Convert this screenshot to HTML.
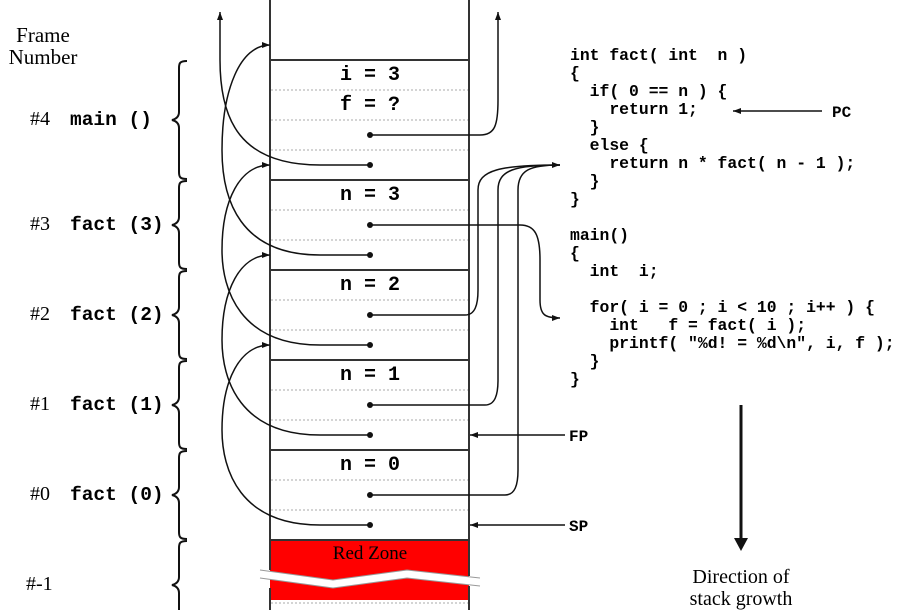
<!DOCTYPE html>
<html><head><meta charset="utf-8"><style>
body{margin:0;background:#fff}
svg{display:block}
.m{font-family:"Liberation Mono","DejaVu Sans Mono",monospace;font-weight:bold;font-size:16.4px}
.s{font-family:"Liberation Serif",serif}
</style></head><body>
<svg width="900" height="610" viewBox="0 0 900 610" xmlns="http://www.w3.org/2000/svg">
<defs>
<marker id="a" markerWidth="8" markerHeight="6" refX="8" refY="3" orient="auto" markerUnits="userSpaceOnUse"><path d="M0,0 L8,3 L0,6 z" fill="#111"/></marker>
</defs>
<rect x="270" y="540" width="199" height="60" fill="#ff0000"/>
<path d="M260,570 L333,580 L407,570 L480,578 L480,586 L407,578 L333,588 L260,578 Z" fill="#fff"/>
<path d="M260,570 L333,580 L407,570 L480,578 M260,578 L333,588 L407,578 L480,586" stroke="#999" stroke-width="1" fill="none"/>
<text x="370" y="559" class="s" font-size="19" text-anchor="middle">Red Zone</text>
<g stroke="#333" stroke-width="2" fill="none">
<line x1="270" y1="0" x2="270" y2="570"/><line x1="270" y1="588" x2="270" y2="610"/>
<line x1="469" y1="0" x2="469" y2="576"/><line x1="469" y1="586" x2="469" y2="610"/>
<line x1="270" y1="60" x2="469" y2="60"/><line x1="270" y1="180" x2="469" y2="180"/>
<line x1="270" y1="270" x2="469" y2="270"/><line x1="270" y1="360" x2="469" y2="360"/>
<line x1="270" y1="450" x2="469" y2="450"/><line x1="270" y1="540" x2="469" y2="540"/>
</g>
<g stroke="#aaa" stroke-width="1" stroke-dasharray="2,2">
<line x1="271" y1="90" x2="468" y2="90"/><line x1="271" y1="120" x2="468" y2="120"/><line x1="271" y1="150" x2="468" y2="150"/>
<line x1="271" y1="210" x2="468" y2="210"/><line x1="271" y1="240" x2="468" y2="240"/>
<line x1="271" y1="300" x2="468" y2="300"/><line x1="271" y1="330" x2="468" y2="330"/>
<line x1="271" y1="390" x2="468" y2="390"/><line x1="271" y1="420" x2="468" y2="420"/>
<line x1="271" y1="480" x2="468" y2="480"/><line x1="271" y1="510" x2="468" y2="510"/>
<line x1="271" y1="603" x2="468" y2="603"/>
</g>
<g class="m" text-anchor="middle" style="font-size:20px">
<text x="370" y="80">i = 3</text><text x="370" y="110">f = ?</text>
<text x="370" y="200">n = 3</text><text x="370" y="290">n = 2</text>
<text x="370" y="380">n = 1</text><text x="370" y="470">n = 0</text>
</g>
<g fill="#111">
<circle cx="370" cy="135" r="3"/><circle cx="370" cy="165" r="3"/>
<circle cx="370" cy="225" r="3"/><circle cx="370" cy="255" r="3"/>
<circle cx="370" cy="315" r="3"/><circle cx="370" cy="345" r="3"/>
<circle cx="370" cy="405" r="3"/><circle cx="370" cy="435" r="3"/>
<circle cx="370" cy="495" r="3"/><circle cx="370" cy="525" r="3"/>
</g>
<g stroke="#111" stroke-width="1.5" fill="none">
<path d="M370,165 L320,165 C240,165 220,120 220,60 L220,12" marker-end="url(#a)"/>
<path d="M370,255 L320,255 C240,255 222,200 222,150 C222,90 240,45 270,45" marker-end="url(#a)"/>
<path d="M370,345 L320,345 C240,345 222,290 222,250 C222,200 240,165 270,165" marker-end="url(#a)"/>
<path d="M370,435 L320,435 C240,435 222,380 222,340 C222,290 240,255 270,255" marker-end="url(#a)"/>
<path d="M370,525 L320,525 C240,525 222,470 222,430 C222,380 240,345 270,345" marker-end="url(#a)"/>
<path d="M370,135 L480,135 C495,135 498,125 498,100 L498,12" marker-end="url(#a)"/>
<path d="M370,225 L520,225 C535,225 540,235 540,260 L540,300 C540,315 545,318 560,318" marker-end="url(#a)"/>
<path d="M370,315 L465,315 C475,315 478,305 478,290 L478,190 C478,170 500,165 560,165" marker-end="url(#a)"/>
<path d="M370,405 L485,405 C495,405 498,395 498,380 L498,190 C498,170 515,165 560,165"/>
<path d="M370,495 L505,495 C515,495 518,485 518,470 L518,190 C518,170 530,165 560,165"/>
<line x1="565" y1="435" x2="470" y2="435" marker-end="url(#a)"/>
<line x1="565" y1="525" x2="470" y2="525" marker-end="url(#a)"/>
<line x1="822" y1="111" x2="733" y2="111" marker-end="url(#a)"/>
</g>
<g class="m" style="font-size:16px">
<text x="569" y="441">FP</text><text x="569" y="531">SP</text><text x="832" y="117">PC</text>
</g>
<line x1="741" y1="405" x2="741" y2="540" stroke="#111" stroke-width="3"/>
<path d="M734,538 L748,538 L741,551 Z" fill="#111"/>
<text x="741" y="583" class="s" font-size="20" text-anchor="middle">Direction of</text>
<text x="741" y="605" class="s" font-size="20" text-anchor="middle">stack growth</text>
<g class="m">
<text x="570" y="60">int fact( int &#160;n )</text>
<text x="570" y="78">{</text>
<text x="570" y="96">&#160;&#160;if( 0 == n ) {</text>
<text x="570" y="114">&#160;&#160;&#160;&#160;return 1;</text>
<text x="570" y="132">&#160;&#160;}</text>
<text x="570" y="150">&#160;&#160;else {</text>
<text x="570" y="168">&#160;&#160;&#160;&#160;return n * fact( n - 1 );</text>
<text x="570" y="186">&#160;&#160;}</text>
<text x="570" y="204">}</text>
<text x="570" y="240">main()</text>
<text x="570" y="258">{</text>
<text x="570" y="276">&#160;&#160;int &#160;i;</text>
<text x="570" y="312">&#160;&#160;for( i = 0 ; i &lt; 10 ; i++ ) {</text>
<text x="570" y="330">&#160;&#160;&#160;&#160;int &#160;&#160;f = fact( i );</text>
<text x="570" y="348">&#160;&#160;&#160;&#160;printf( "%d! = %d\n", i, f );</text>
<text x="570" y="366">&#160;&#160;}</text>
<text x="570" y="384">}</text>
</g>
<text x="43" y="42" class="s" font-size="21" text-anchor="middle">Frame</text>
<text x="43" y="64" class="s" font-size="21" text-anchor="middle">Number</text>
<g class="s" font-size="20">
<text x="30" y="125">#4</text><text x="30" y="230">#3</text><text x="30" y="320">#2</text>
<text x="30" y="410">#1</text><text x="30" y="500">#0</text><text x="26" y="590">#-1</text>
</g>
<g class="m" style="font-size:19.5px">
<text x="70" y="125">main ()</text><text x="70" y="230">fact (3)</text><text x="70" y="320">fact (2)</text>
<text x="70" y="410">fact (1)</text><text x="70" y="500">fact (0)</text>
</g>
<g stroke="#111" stroke-width="2" fill="none">
<path d="M187,61 C180,61 179,63 179,68 L179,112 C179,117 176,119 172,120 C176,121 179,123 179,128 L179,172 C179,177 180,179 187,179"/>
<path d="M187,181 C180,181 179,183 179,188 L179,217 C179,222 176,224 172,225 C176,226 179,228 179,233 L179,262 C179,267 180,269 187,269"/>
<path d="M187,271 C180,271 179,273 179,278 L179,307 C179,312 176,314 172,315 C176,316 179,318 179,323 L179,352 C179,357 180,359 187,359"/>
<path d="M187,361 C180,361 179,363 179,368 L179,397 C179,402 176,404 172,405 C176,406 179,408 179,413 L179,442 C179,447 180,449 187,449"/>
<path d="M187,451 C180,451 179,453 179,458 L179,487 C179,492 176,494 172,495 C176,496 179,498 179,503 L179,532 C179,537 180,539 187,539"/>
<path d="M187,541 C180,541 179,543 179,548 L179,577 C179,582 176,584 172,585 C176,586 179,588 179,593 L179,610"/>
</g>
</svg>
</body></html>
